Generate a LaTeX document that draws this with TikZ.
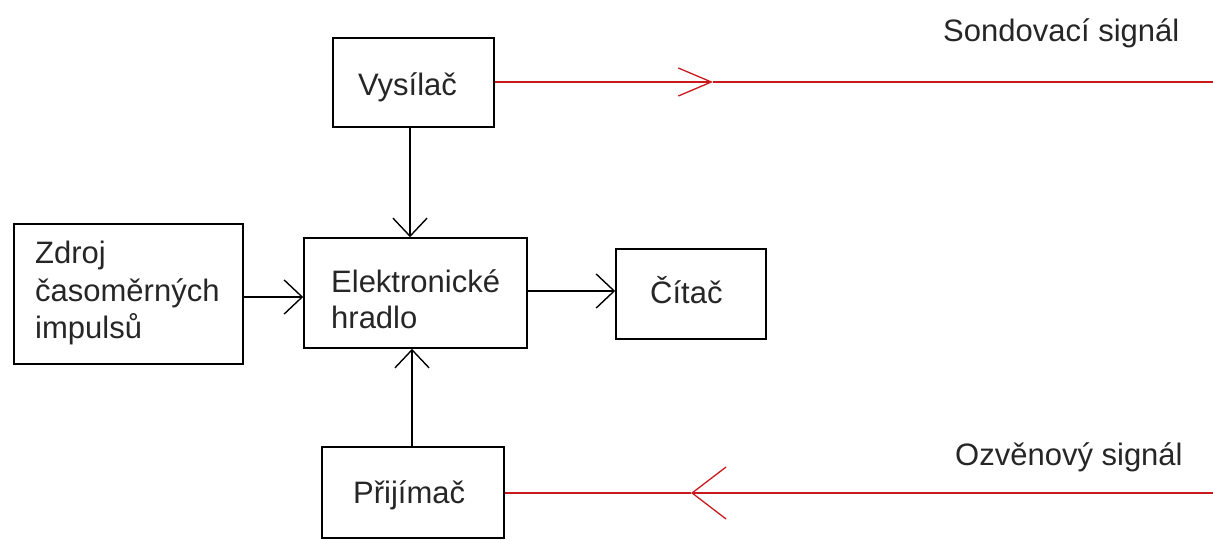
\documentclass[tikz,border=0pt]{standalone}
\usepackage{fontspec}
\setmainfont{Liberation Sans}
\usetikzlibrary{arrows.meta}
\definecolor{sigred}{RGB}{200,25,30}
\begin{document}
\begin{tikzpicture}[x=1pt,y=-1pt,
  box/.style={draw=black,line width=1.6pt,rectangle,inner sep=0pt},
  lbl/.style={anchor=base west,inner sep=0pt,font=\fontsize{31}{37}\selectfont,text=black!85},
  conn/.style={draw=black,line width=1.6pt,-{Straight Barb[length=18pt,width=34pt,line width=1.4pt]}},
  sig/.style={draw=sigred,line width=1.5pt}]
\useasboundingbox (0,0) rectangle (1213,540);
% boxes
\node[box,minimum width=161pt,minimum height=89pt] (vys) at (413.5,82.5) {};
\node[box,minimum width=229pt,minimum height=140pt] (zdroj) at (128.5,294) {};
\node[box,minimum width=223pt,minimum height=110pt] (elek) at (415.5,293) {};
\node[box,minimum width=150pt,minimum height=90pt] (citac) at (691,294) {};
\node[box,minimum width=182pt,minimum height=91pt] (prij) at (413,492.5) {};
% texts
\node[lbl] (tvys) at (358,96) {Vysílač};
\node[lbl] (tz1) at (35,263) {Zdroj};
\node[lbl] (tz2) at (35,301) {časoměrných};
\node[lbl] (tz3) at (35,338) {impulsů};
\node[lbl] (te1) at (331,292) {Elektronické};
\node[lbl] (te2) at (331,328) {hradlo};
\node[lbl] (tc) at (650,303) {Čítač};
\node[lbl] (tp) at (353,503) {Přijímač};
\node[lbl] (ts) at (943,42) {Sondovací signál};
\node[lbl] (to) at (955,465) {Ozvěnový signál};
% helper coordinates
\coordinate (xv) at (410,0);
\coordinate (xp) at (412,0);
\coordinate (yz) at (0,297);
\coordinate (yc) at (0,291);
\coordinate (tipA) at (713,82);
\coordinate (endA) at (1213,82);
\coordinate (tipB) at (691,493);
\coordinate (endB) at (1213,493);
% black connectors
\draw[conn] (vys.south -| xv) -- (elek.north -| xv);
\draw[conn] (prij.north -| xp) -- (elek.south -| xp);
\draw[conn] (zdroj.east |- yz) -- (elek.west |- yz);
\draw[conn] (elek.east |- yc) -- (citac.west |- yc);
% red signals
\draw[sig,-{Straight Barb[length=33pt,width=28pt,line width=1.3pt]}] (vys.east |- tipA) -- (tipA);
\draw[sig] (tipA) -- (endA);
\draw[sig,-{Straight Barb[length=34pt,width=52pt,line width=1.3pt]}] (endB) -- (tipB);
\draw[sig] (tipB) -- (prij.east |- tipB);
\end{tikzpicture}
\end{document}
